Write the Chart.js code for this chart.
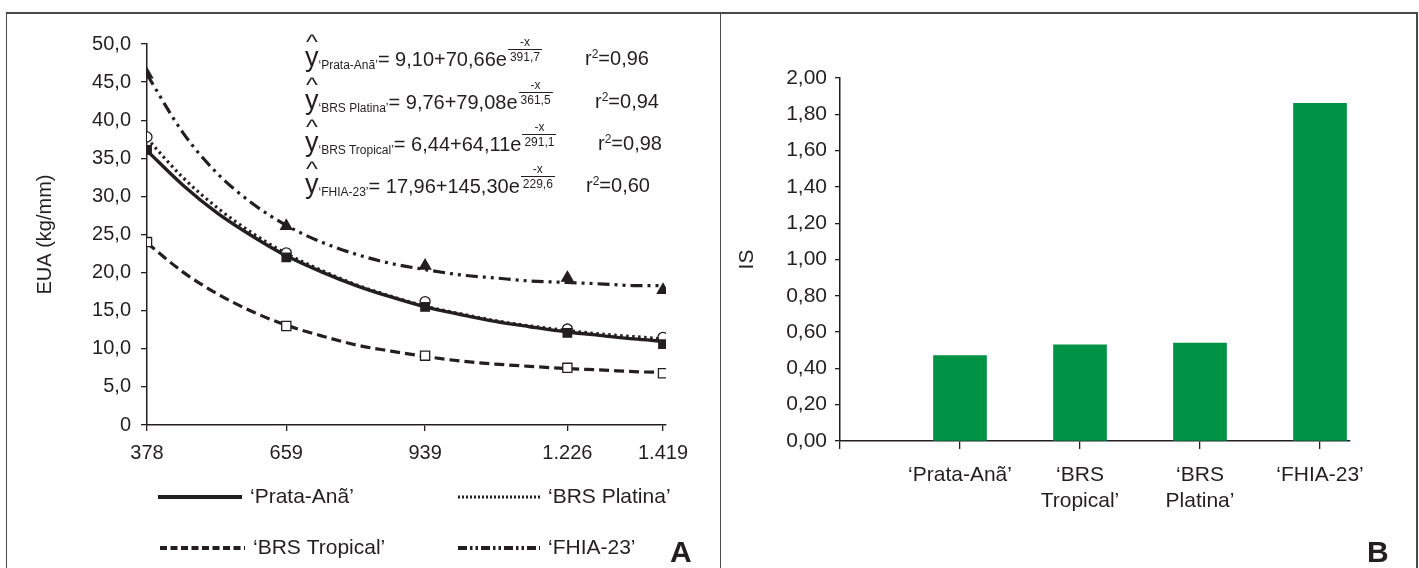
<!DOCTYPE html>
<html><head><meta charset="utf-8">
<script src="https://cdn.jsdelivr.net/npm/chart.js@4.4.1/dist/chart.umd.min.js"></script>
<style>
html,body{margin:0;padding:0;background:#fff;width:1419px;height:568px;overflow:hidden;font-family:"Liberation Sans",Arial,sans-serif;color:#231f20}
canvas{position:absolute;top:0}
#cA{left:0}
#cB{left:720px}
.fr{position:absolute;background:#4a4a4a}
.eq{position:absolute;left:305px;font-size:20px;line-height:20px;white-space:nowrap}
.yh{position:relative;font-size:27px;line-height:0}
.hat{position:absolute;left:2px;top:-11px;font-size:21px;line-height:21px;transform:scaleX(1.2)}
.sub{font-size:12px;vertical-align:-3px;line-height:0}
.frac{display:inline-block;vertical-align:5px;text-align:center;font-size:12px;line-height:12px;margin-left:1px}
.frac .n{display:block;padding:0 2px 1px}
.frac .d{display:block;border-top:1px solid #231f20;padding:1px 2px 0}
.r2{position:absolute;font-size:20px;line-height:20px;white-space:nowrap}
.r2 sup{font-size:12px;vertical-align:7px;line-height:0}
.pl{position:absolute;font-weight:bold;font-size:30px;line-height:30px}
</style>
</head><body>
<div class="fr" style="left:6px;top:12px;width:1411px;height:2px"></div>
<div class="fr" style="left:6px;top:12px;width:1px;height:556px"></div>
<div class="fr" style="left:720px;top:12px;width:1px;height:556px"></div>
<div class="fr" style="left:1416px;top:12px;width:2px;height:556px"></div>
<canvas id="cA" width="720" height="568"></canvas>
<canvas id="cB" width="699" height="568"></canvas>
<div id="eqs"></div>
<div class="pl" style="left:670px;top:537px">A</div>
<div class="pl" style="left:1367px;top:537px">B</div>
<script>
// ---------- Panel A data ----------
const cultivars = ['‘Prata-Anã’', '‘BRS Platina’', '‘BRS Tropical’', '‘FHIA-23’'];
const xObs = [378, 659, 939, 1226, 1419];
const prataObs = [36.1, 22.0, 15.5, 12.1, 10.6];
const platinaObs = [37.8, 22.6, 16.2, 12.6, 11.5];
const tropicalObs = [24.0, 13.0, 9.1, 7.5, 6.8];
const fhiaObs = [46.0, 26.1, 20.9, 19.3, 17.7];

const xCurve = [378, 450, 520, 590, 659, 730, 800, 870, 939, 1010, 1080, 1150, 1226, 1300, 1360, 1419];
const prataCurve = [36.0, 31.5, 27.8, 24.8, 22.2, 20.1, 18.3, 16.8, 15.5, 14.5, 13.6, 12.9, 12.2, 11.7, 11.3, 11.0];
const platinaCurve = [37.6, 32.5, 28.5, 25.2, 22.5, 20.3, 18.4, 16.9, 15.6, 14.6, 13.7, 13.0, 12.4, 11.9, 11.6, 11.3];
const tropicalCurve = [23.9, 20.1, 17.2, 14.9, 13.1, 11.7, 10.5, 9.7, 9.0, 8.4, 8.0, 7.7, 7.4, 7.2, 7.0, 6.9];
const fhiaCurve = [46.0, 38.4, 33.0, 29.1, 26.2, 24.0, 22.4, 21.2, 20.4, 19.7, 19.3, 18.9, 18.7, 18.5, 18.3, 18.3];

const xTickValues = [378, 659, 939, 1226, 1419];
const xTickLabels = ['378', '659', '939', '1.226', '1.419'];
const yTicksA = ['0', '5,0', '10,0', '15,0', '20,0', '25,0', '30,0', '35,0', '40,0', '45,0', '50,0'];

// equations
const eqNames = ['‘Prata-Anã’', '‘BRS Platina’', '‘BRS Tropical’', '‘FHIA-23’'];
const eqText = ['= 9,10+70,66e', '= 9,76+79,08e', '= 6,44+64,11e', '= 17,96+145,30e'];
const eqDen = ['391,7', '361,5', '291,1', '229,6'];
const eqR2 = ['0,96', '0,94', '0,98', '0,60'];

// ---------- Panel B data ----------
const isCategories = [['‘Prata-Anã’'], ['‘BRS', 'Tropical’'], ['‘BRS', 'Platina’'], ['‘FHIA-23’']];
const isValues = [0.47, 0.53, 0.54, 1.86];
const yTicksB = ['0,00', '0,20', '0,40', '0,60', '0,80', '1,00', '1,20', '1,40', '1,60', '1,80', '2,00'];

// ---------- styles / layout ----------
const INK = '#231f20';
const FONT = '"Liberation Sans", Arial, sans-serif';
const eqTops = [36, 79, 121, 163];
const r2Left = [585, 595, 598, 586];
const r2Tops = [48, 91, 133, 175];
const curveStyles = [
  {dash: [], lw: 3.4},
  {dash: [2.5, 3.5], lw: 3.2},
  {dash: [10, 5], lw: 3.2},
  {dash: [12, 5, 3, 5, 3, 5], lw: 3.2}
];
const legendDash = [[], [2, 2], [7, 3.5], [9, 3, 2.5, 3, 2.5, 3]];
const legendLw = [4, 3, 4, 4];
const legendPos = [
  {x1: 158, x2: 242, y: 497, tx: 250},
  {x1: 458, x2: 540, y: 497, tx: 548},
  {x1: 160, x2: 245, y: 548, tx: 253},
  {x1: 458, x2: 540, y: 548, tx: 548}
];
const markerStyles = [
  {pointStyle: 'rect', radius: 6, bg: INK},
  {pointStyle: 'circle', radius: 5, bg: '#fff'},
  {pointStyle: 'rect', radius: 6.5, bg: '#fff'},
  {pointStyle: 'triangle', radius: 6.5, bg: INK}
];

// equations (HTML text)
const eqs = document.getElementById('eqs');
eqNames.forEach((n, i) => {
  const d = document.createElement('div');
  d.className = 'eq';
  d.style.top = eqTops[i] + 'px';
  d.innerHTML = '<span class="yh">y<span class="hat">^</span></span><span class="sub">' + n + '</span>' +
    eqText[i] + '<span class="frac"><span class="n">-x</span><span class="d">' + eqDen[i] + '</span></span>';
  eqs.appendChild(d);
  const r = document.createElement('div');
  r.className = 'r2';
  r.style.top = r2Tops[i] + 'px';
  r.style.left = r2Left[i] + 'px';
  r.innerHTML = 'r<sup>2</sup>=' + eqR2[i];
  eqs.appendChild(r);
});

const curves = [prataCurve, platinaCurve, tropicalCurve, fhiaCurve];
const obs = [prataObs, platinaObs, tropicalObs, fhiaObs];
const datasetsA = [];
curves.forEach((c, i) => {
  datasetsA.push({
    label: cultivars[i],
    data: xCurve.map((x, j) => ({x: x, y: c[j]})),
    borderColor: INK, borderWidth: curveStyles[i].lw, borderDash: curveStyles[i].dash,
    pointRadius: 0, cubicInterpolationMode: 'monotone', fill: false, order: 2
  });
});
obs.forEach((o, i) => {
  datasetsA.push({
    label: cultivars[i] + ' obs',
    data: xObs.map((x, j) => ({x: x, y: o[j]})),
    showLine: false, pointStyle: markerStyles[i].pointStyle, pointRadius: markerStyles[i].radius,
    pointBackgroundColor: markerStyles[i].bg, pointBorderColor: INK, pointBorderWidth: 1.3, order: 1
  });
});

const gridLegend = {
  id: 'gridLegend',
  afterDraw(chart) {
    const ctx = chart.ctx;
    ctx.save();
    for (let i = 0; i < 4; i++) {
      const p = legendPos[i];
      ctx.beginPath();
      ctx.setLineDash(legendDash[i]);
      ctx.lineWidth = legendLw[i];
      ctx.strokeStyle = INK;
      ctx.moveTo(p.x1, p.y); ctx.lineTo(p.x2, p.y);
      ctx.stroke();
      ctx.setLineDash([]);
      ctx.fillStyle = INK;
      ctx.font = '21px ' + FONT;
      ctx.textBaseline = 'middle';
      ctx.fillText(chart.data.datasets[i].label, p.tx, p.y);
    }
    ctx.restore();
  }
};

new Chart(document.getElementById('cA'), {
  type: 'line',
  data: {datasets: datasetsA},
  plugins: [gridLegend],
  options: {
    responsive: false, animation: false,
    layout: {padding: {top: 44, right: 54, bottom: 103, left: 0}},
    plugins: {legend: {display: false}, tooltip: {enabled: false}},
    scales: {
      x: {
        type: 'linear', min: 378, max: 1425,
        afterBuildTicks: s => { s.ticks = xTickValues.map(v => ({value: v})); },
        afterFit: s => { s.height = 40; },
        ticks: {autoSkip: false, maxRotation: 0, color: INK, font: {family: FONT, size: 20}, padding: 10,
          callback: (v, i) => xTickLabels[i]},
        grid: {drawOnChartArea: false, tickLength: 6, color: INK, lineWidth: 1.3},
        border: {color: INK, width: 1.5}
      },
      y: {
        min: 0, max: 50,
        afterBuildTicks: s => { s.ticks = yTicksA.map((t, i) => ({value: i * 5})); },
        afterFit: s => { s.width = 147; },
        ticks: {autoSkip: false, color: INK, font: {family: FONT, size: 20}, padding: 10,
          callback: (v, i) => yTicksA[i]},
        grid: {drawOnChartArea: false, tickLength: 6, color: INK, lineWidth: 1.3},
        border: {color: INK, width: 1.5},
        title: {display: true, text: 'EUA (kg/mm)', color: INK, font: {family: FONT, size: 20}, padding: {top: 33, bottom: 0}}
      }
    }
  }
});

new Chart(document.getElementById('cB'), {
  type: 'bar',
  data: {datasets: [{
    label: 'IS',
    data: isValues.map((v, i) => ({x: i + 1, y: v})),
    backgroundColor: '#009245', barThickness: 53
  }]},
  options: {
    responsive: false, animation: false,
    layout: {padding: {top: 78, right: 69, bottom: 37, left: 0}},
    plugins: {legend: {display: false}, tooltip: {enabled: false}},
    scales: {
      x: {
        type: 'linear', min: 0, max: 4.25, offset: false,
        afterBuildTicks: s => { s.ticks = [0, 1, 2, 3, 4].map(v => ({value: v})); },
        afterFit: s => { s.height = 90; },
        ticks: {autoSkip: false, maxRotation: 0, color: INK, font: {family: FONT, size: 21}, padding: 14,
          callback: (v, i) => (i === 0 ? '' : isCategories[i - 1])},
        grid: {drawOnChartArea: false, offset: false, tickLength: 8, color: INK, lineWidth: 1.3},
        border: {color: INK, width: 1.5}
      },
      y: {
        min: 0, max: 2,
        afterBuildTicks: s => { s.ticks = yTicksB.map((t, i) => ({value: i * 0.2})); },
        afterFit: s => { s.width = 120; },
        ticks: {autoSkip: false, color: INK, font: {family: FONT, size: 21}, padding: 8,
          callback: (v, i) => yTicksB[i]},
        grid: {drawOnChartArea: false, tickLength: 5, color: INK, lineWidth: 1.3},
        border: {color: INK, width: 1.5},
        title: {display: true, text: 'IS', color: INK, font: {family: FONT, size: 21}, padding: {top: 15, bottom: 0}}
      }
    }
  }
});
</script>
</body></html>
